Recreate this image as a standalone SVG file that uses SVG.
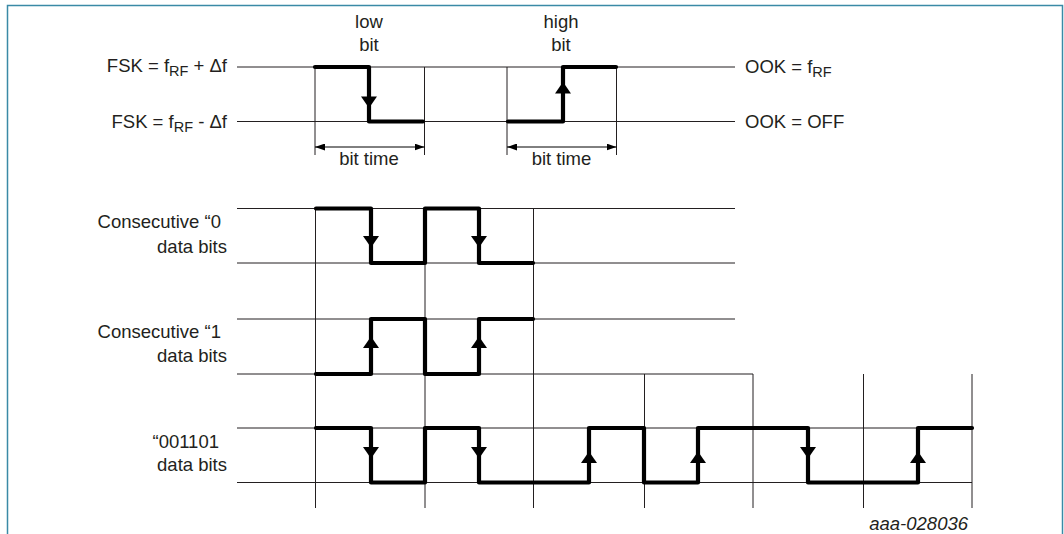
<svg xmlns="http://www.w3.org/2000/svg" width="1064" height="534" viewBox="0 0 1064 534">
<style>
text{font-family:"Liberation Sans",Arial,sans-serif;font-size:18.5px;fill:#231f20}
.e{text-anchor:end}
.m{text-anchor:middle}
.g{stroke:#231f20;stroke-width:1;fill:none}
.w{stroke:#000;stroke-width:4.2;fill:none;stroke-linejoin:round;stroke-linecap:round}
.d{stroke:#000;stroke-width:1;fill:none;marker-start:url(#dim);marker-end:url(#dim)}
</style>
<defs>
<marker id="dim" viewBox="0 0 10 7" refX="10" refY="3.5" markerWidth="10" markerHeight="7" orient="auto-start-reverse" markerUnits="userSpaceOnUse"><path d="M0,0 L10,3.5 L0,7 Z" fill="#000"/></marker>
<path id="ad" d="M-8,-11.5 L8,-11.5 L0,0 Z" fill="#000"/>
<path id="au" d="M-8,11.5 L8,11.5 L0,0 Z" fill="#000"/>
</defs>
<rect x="7.5" y="5.5" width="1055" height="540" fill="none" stroke="#3a8aa6" stroke-width="1.5"/>

<g id="grid">
<path class="g" d="M237,67 H735 M237,121.5 H735 M315,67 V155 M424.5,67 V155 M507,67 V155 M616.5,67 V155"/>
<path class="g" d="M237,208.5 H735 M237,263 H735 M237,319 H735 M237,374 H753 M237,428 H972 M237,482.5 H972"/>
<path class="g" d="M315.5,208 V508 M425,208 V508 M533.5,208 V508 M644.5,374 V508 M753,374 V508 M863.5,374 V508 M972,374 V508"/>
</g>

<g id="legend-top">
<text class="e" x="227" y="72">FSK = f<tspan font-size="14.5" dy="4">RF</tspan><tspan dy="-4"> + Δf</tspan></text>
<text class="e" x="227" y="128">FSK = f<tspan font-size="14.5" dy="4">RF</tspan><tspan dy="-4"> - Δf</tspan></text>
<text x="745" y="73">OOK = f<tspan font-size="14.5" dy="4">RF</tspan></text>
<text x="745" y="128">OOK = OFF</text>
</g>

<g id="low-bit">
<text class="m" x="369" y="28">low</text>
<text class="m" x="369" y="51">bit</text>
<path class="w" d="M315,67 H369 V121.5 H423"/>
<use href="#ad" x="369" y="108"/>
<path class="d" d="M315,147 H424.5"/>
<text class="m" x="369" y="165">bit time</text>
</g>

<g id="high-bit">
<text class="m" x="561" y="28">high</text>
<text class="m" x="561" y="51">bit</text>
<path class="w" d="M508,121.5 H563 V67 H616"/>
<use href="#au" x="563" y="82"/>
<path class="d" d="M507,147 H616.5"/>
<text class="m" x="561.5" y="165">bit time</text>
</g>

<g id="row-zeros">
<text class="e" x="221" y="228">Consecutive “0</text>
<text class="e" x="227" y="253">data bits</text>
<path class="w" d="M316,208.5 H371 V263 H425 V208.5 H479 V263 H533"/>
<use href="#ad" x="371" y="247.5"/>
<use href="#ad" x="479" y="247.5"/>
</g>

<g id="row-ones">
<text class="e" x="221" y="338">Consecutive “1</text>
<text class="e" x="227" y="362">data bits</text>
<path class="w" d="M316,374 H371 V319 H425 V374 H479 V319 H533"/>
<use href="#au" x="371" y="336.5"/>
<use href="#au" x="479" y="336.5"/>
</g>

<g id="row-001101">
<text class="e" x="219" y="448">“001101</text>
<text class="e" x="227" y="471">data bits</text>
<path class="w" d="M316,428 H371 V482.5 H425 V428 H479 V482.5 H589 V428 H644 V482.5 H698 V428 H808 V482.5 H918 V428 H972"/>
<use href="#ad" x="371" y="458.5"/>
<use href="#ad" x="479" y="458.5"/>
<use href="#au" x="589" y="451.5"/>
<use href="#au" x="698" y="451.5"/>
<use href="#ad" x="808" y="458.5"/>
<use href="#au" x="918" y="451.5"/>
</g>

<text class="e" x="968" y="530" font-style="italic" font-size="15.5">aaa-028036</text>
</svg>
